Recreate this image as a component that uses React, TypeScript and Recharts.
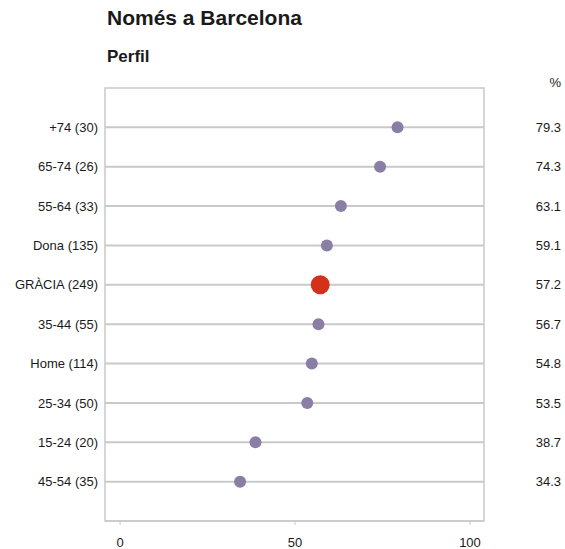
import React from 'react';
import { ScatterChart, Scatter, XAxis, YAxis, ReferenceLine, ReferenceArea } from 'recharts';

const categories = ['+74 (30)', '65-74 (26)', '55-64 (33)', 'Dona (135)', 'GRÀCIA (249)', '35-44 (55)', 'Home (114)', '25-34 (50)', '15-24 (20)', '45-54 (35)'];
const values = [79.3, 74.3, 63.1, 59.1, 57.2, 56.7, 54.8, 53.5, 38.7, 34.3];
const highlighted = ['GRÀCIA (249)'];
const xTicks = [0, 50, 100];

const rows = categories.map((c, i) => i + 1);
const data = categories.map((c, i) => ({ x: values[i], y: i + 1, label: c, hi: highlighted.includes(c) }));

const FONT = '"Liberation Sans", Arial, sans-serif';
const TEXT = '#1a1a1a';
const GRID = '#c9c9c9';

const Dot = (props: any) => {
  const { cx, cy, payload } = props;
  if (cx == null || cy == null) return null;
  return payload.hi ? (
    <circle cx={cx} cy={cy} r={9.5} fill="#d4311b" />
  ) : (
    <circle cx={cx} cy={cy} r={6} fill="#8a7ea5" />
  );
};

const NoDot = () => <g />;

const RightTick = (props: any) => {
  const { x, y, payload } = props;
  const v = values[payload.value - 1];
  return (
    <text x={x} y={y} dy="0.355em" textAnchor="end" fontSize={13} fill={TEXT} fontFamily={FONT}>
      {v != null ? v.toFixed(1) : ''}
    </text>
  );
};

const PercentLabel = (props: any) => {
  const vb = props.viewBox;
  return (
    <text x={vb.x + vb.width - 4} y={vb.y - 1} textAnchor="end" fontSize={13} fill={TEXT} fontFamily={FONT}>
      %
    </text>
  );
};

export default function App() {
  return (
    <div style={{ position: 'absolute', left: 0, top: 0, width: 565, height: 549, fontFamily: FONT, background: '#fff' }}>
      <div style={{ position: 'absolute', left: 107, top: 7, fontSize: 21, lineHeight: '21px', fontWeight: 'bold', color: TEXT, whiteSpace: 'nowrap' }}>
        Només a Barcelona
      </div>
      <div style={{ position: 'absolute', left: 107, top: 47.6, fontSize: 17, lineHeight: '17px', fontWeight: 'bold', color: TEXT, whiteSpace: 'nowrap' }}>
        Perfil
      </div>
      <ScatterChart width={565} height={549} margin={{ top: 88, right: 0, bottom: 0, left: 0 }} style={{ position: 'absolute', left: 0, top: 0 }}>
        <XAxis
          type="number"
          dataKey="x"
          domain={[-4.3, 104]}
          ticks={xTicks}
          height={28}
          allowDataOverflow
          axisLine={{ stroke: GRID, strokeWidth: 1.5 }}
          tickLine={{ stroke: GRID }}
          tickSize={4}
          tickMargin={13}
          tick={{ fontSize: 13, fill: TEXT, fontFamily: FONT }}
        />
        <YAxis
          yAxisId="left"
          type="number"
          dataKey="y"
          domain={[0, 11]}
          reversed
          ticks={rows}
          interval={0}
          width={105}
          axisLine={false}
          tickLine={false}
          tickSize={0}
          tickMargin={7}
          tickFormatter={(v: number) => categories[v - 1] ?? ''}
          tick={{ fontSize: 13, fill: TEXT, fontFamily: FONT }}
        />
        <YAxis
          yAxisId="right"
          orientation="right"
          type="number"
          dataKey="y"
          domain={[0, 11]}
          reversed
          ticks={rows}
          interval={0}
          width={81}
          axisLine={false}
          tickLine={false}
          tickSize={0}
          tickMargin={77}
          tick={(p: any) => <RightTick {...p} />}
          label={<PercentLabel />}
        />
        <ReferenceArea yAxisId="left" x1={-4.3} x2={104} y1={0} y2={11} fill="none" stroke={GRID} strokeWidth={1.5} />
        {rows.map((r) => (
          <ReferenceLine key={r} yAxisId="left" y={r} stroke={GRID} strokeWidth={2} />
        ))}
        <Scatter yAxisId="right" data={data} shape={<NoDot />} isAnimationActive={false} />
        <Scatter yAxisId="left" data={data} shape={<Dot />} isAnimationActive={false} />
      </ScatterChart>
    </div>
  );
}
